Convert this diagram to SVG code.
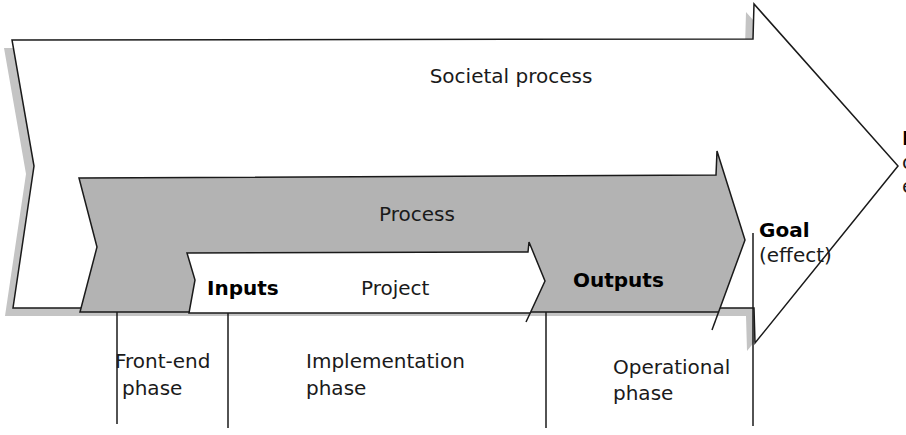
<svg xmlns="http://www.w3.org/2000/svg" width="906" height="435" viewBox="0 0 906 435">
<style>
.ol{stroke:#1a1a1a;stroke-width:1.5;stroke-linejoin:miter}
.t{font-family:"DejaVu Sans",Verdana,sans-serif;font-size:20px;fill:#1a1a1a}
.b{font-weight:bold;fill:#000}
.ln{stroke:#1a1a1a;stroke-width:1.5;fill:none}
</style>
<rect width="906" height="435" fill="#fff"/>
<g id="societal">
<polygon points="4,48 745,47 746,12 890,174 747,351 746,316 5,316 26,174" fill="#c4c4c4"/>
<polygon class="ol" points="12,40 753,39 754,4 898,166 755,343 754,308 13,308 34,166" fill="#fff"/>
<text class="t" x="511" y="83" text-anchor="middle">Societal process</text>
</g>
<g id="process">
<polygon class="ol" points="79,178 716,175 717,151 745,240 718.6,312 80,312 97,247" fill="#b3b3b3"/>
<text class="t" x="417" y="221" text-anchor="middle">Process</text>
<text class="t b" x="573" y="287">Outputs</text>
</g>
<g id="project">
<polygon class="ol" points="187,253 528,252 529,242 545,281 530.2,313 189,313 195,280" fill="#fff"/>
<text class="t b" x="207" y="295">Inputs</text>
<text class="t" x="361" y="295">Project</text>
</g>
<g id="connectors">
<line class="ln" x1="718.6" y1="312" x2="712" y2="330"/>
<line class="ln" x1="530.2" y1="313" x2="526" y2="322"/>
<line class="ln" x1="117" y1="312" x2="117" y2="424"/>
<line class="ln" x1="228" y1="313" x2="228" y2="428"/>
<line class="ln" x1="546" y1="312" x2="546" y2="428"/>
<line class="ln" x1="753" y1="233" x2="753" y2="426"/>
</g>
<g id="goal">
<text class="t b" x="759" y="237">Goal</text>
<text class="t" x="759" y="262">(effect)</text>
</g>
<g id="purpose">
<text class="t b" x="902" y="145">Purpose</text>
<text class="t" x="902" y="169">overall</text>
<text class="t" x="902" y="193">effect</text>
</g>
<g id="phases">
<text class="t" x="115" y="368">Front-end</text>
<text class="t" x="122" y="395">phase</text>
<text class="t" x="306" y="368">Implementation</text>
<text class="t" x="306" y="395">phase</text>
<text class="t" x="613" y="374">Operational</text>
<text class="t" x="613" y="400">phase</text>
</g>
</svg>
